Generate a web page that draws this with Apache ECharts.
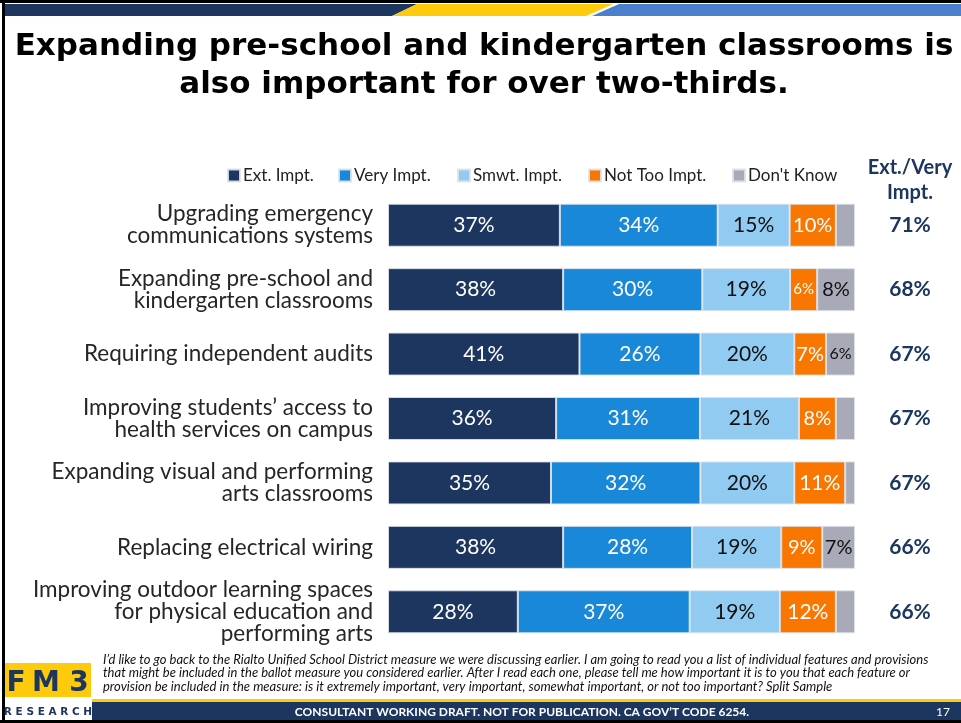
<!DOCTYPE html>
<html><head><meta charset="utf-8">
<script src="https://cdn.jsdelivr.net/npm/echarts@6/dist/echarts.min.js"></script>
<style>html,body{margin:0;padding:0;background:#fff}#c{width:961px;height:723px}</style>
</head><body><div id="c"></div>
<script>
const categories = [
  "Upgrading emergency\ncommunications systems",
  "Expanding pre-school and\nkindergarten classrooms",
  "Requiring independent audits",
  "Improving students\u2019 access to\nhealth services on campus",
  "Expanding visual and performing\narts classrooms",
  "Replacing electrical wiring",
  "Improving outdoor learning spaces\nfor physical education and\nperforming arts"
];
const extImpt   = [36.8, 37.5, 41.0, 36.0, 34.9, 37.5, 27.8];
const veryImpt  = [33.8, 29.8, 25.9, 30.8, 32.0, 27.6, 36.8];
const smwtImpt  = [15.4, 18.8, 20.1, 21.2, 20.1, 19.1, 19.3];
const notTooImpt= [9.9, 5.8, 6.8, 7.9, 10.9, 8.8, 12.0];
const dontKnow  = [4.1, 8.1, 6.2, 4.1, 2.1, 7.0, 4.1];
const extVeryTotals = [71, 68, 67, 67, 67, 66, 66];
const seriesNames = ["Ext. Impt.", "Very Impt.", "Smwt. Impt.", "Not Too Impt.", "Don't Know"];

const colors = ['#1c3660', '#1a88d8', '#92cbf2', '#f97600', '#a8aab8'];
const labelColors = ['#ffffff', '#ffffff', '#111111', '#ffffff', '#111111'];
const FONT = 'Lato';

function mkData(arr) {
  return arr.map(v => {
    let fs = 21;
    if (v < 6) fs = 15;
    else if (v < 6.5) fs = 16;
    else if (v < 10.5) fs = 20;
    return { value: v, label: { fontSize: fs } };
  });
}
const allVals = [extImpt, veryImpt, smwtImpt, notTooImpt, dontKnow];
const series = allVals.map((arr, i) => ({
  name: seriesNames[i],
  type: 'bar',
  stack: 'total',
  barWidth: 43,
  data: mkData(arr),
  itemStyle: { color: colors[i], borderColor: 'rgba(220,226,235,0.9)', borderWidth: 1 },
  label: {
    show: true,
    position: 'inside',
    color: labelColors[i],
    fontFamily: FONT,
    formatter: p => (p.value >= 5 ? Math.round(p.value) + '%' : '')
  },
  emphasis: { disabled: true }
}));

const legendX = [222, 333, 452, 583, 727];
const legends = seriesNames.map((n, i) => ({
  data: [n], left: legendX[i], top: 162, itemWidth: 12, itemHeight: 12, itemGap: 4,
  icon: 'rect', textStyle: { fontSize: 17, color: '#222', fontFamily: FONT, padding: [0, 0, 0, -2] }, selectedMode: false
}));

const chart = echarts.init(document.getElementById('c'));
chart.setOption({
  animation: false,
  color: colors,
  legend: legends,
  grid: { left: 388, right: 106, top: 193, height: 451 },
  xAxis: { type: 'value', min: 0, max: 100, show: false },
  yAxis: [{
    type: 'category', data: categories, inverse: true,
    axisLine: { show: false }, axisTick: { show: false },
    axisLabel: { fontSize: 22.5, color: '#262626', fontFamily: FONT, margin: 15, lineHeight: 22, align: 'right' }
  }, {
    type: 'category', data: extVeryTotals.map(v => v + '%'), inverse: true, position: 'right',
    axisLine: { show: false }, axisTick: { show: false },
    axisLabel: { fontSize: 21, fontWeight: 'bold', color: '#1c3660', fontFamily: FONT, margin: 55, align: 'center' }
  }],
  series: series,
  graphic: [
    { type: 'rect', shape: { x: 0, y: 0, width: 961, height: 3 }, style: { fill: '#000' } },
    { type: 'rect', shape: { x: 2, y: 0, width: 3, height: 723 }, style: { fill: '#000' } },
    { type: 'polygon', shape: { points: [[5, 4], [417, 4], [392, 16], [5, 16]] }, style: { fill: '#1c3660' } },
    { type: 'polygon', shape: { points: [[417, 4], [613, 4], [586, 16], [392, 16]] }, style: { fill: '#fdcb0b' } },
    { type: 'polygon', shape: { points: [[619, 4], [961, 4], [961, 16], [592, 16]] }, style: { fill: '#4a7fcb' } },
    { type: 'text', x: 484, y: 28, style: {
      text: 'Expanding pre-school and kindergarten classrooms is\nalso important for over two-thirds.',
      font: 'bold 31px "DejaVu Sans"', fill: '#000', align: 'center', verticalAlign: 'top', lineHeight: 38 } },
    { type: 'text', x: 910, y: 155, style: {
      text: 'Ext./Very\nImpt.', font: 'bold 20px Lato', fill: '#1c3660', align: 'center', verticalAlign: 'top', lineHeight: 25 } },
    { type: 'text', x: 103, y: 653, style: {
      text: 'I\u2019d like to go back to the Rialto Unified School District measure we were discussing earlier. I am going to read you a list of individual features and provisions\nthat might be included in the ballot measure you considered earlier. After I read each one, please tell me how important it is to you that each feature or\nprovision be included in the measure: is it extremely important, very important, somewhat important, or not too important? Split Sample',
      font: 'italic 13px Lato', fill: '#111', lineHeight: 13.5, verticalAlign: 'top' } },
    { type: 'rect', shape: { x: 5, y: 663, width: 86, height: 34 }, style: { fill: '#fdcb0b' } },
    { type: 'text', x: 16, y: 684, style: { text: 'F', font: 'bold 28px "DejaVu Sans"', fill: '#1c3660', align: 'center', verticalAlign: 'middle' } },
    { type: 'text', x: 46, y: 684, style: { text: 'M', font: 'bold 28px "DejaVu Sans"', fill: '#1c3660', align: 'center', verticalAlign: 'middle' } },
    { type: 'text', x: 79, y: 684, style: { text: '3', font: 'bold 28px "DejaVu Sans"', fill: '#1c3660', align: 'center', verticalAlign: 'middle' } },
    { type: 'text', x: 48, y: 712, style: { text: 'R E S E A R C H', font: 'bold 10.5px "DejaVu Sans"', fill: '#1c3660', align: 'center', verticalAlign: 'middle' } },
    { type: 'rect', shape: { x: 92, y: 699, width: 869, height: 3 }, style: { fill: '#fdcb0b' } },
    { type: 'rect', shape: { x: 92, y: 702, width: 869, height: 18 }, style: { fill: '#1c3660' } },
    { type: 'rect', shape: { x: 0, y: 720, width: 961, height: 3 }, style: { fill: '#000' } },
    { type: 'text', x: 522, y: 712, style: { text: 'CONSULTANT WORKING DRAFT. NOT FOR PUBLICATION. CA GOV\u2019T CODE 6254.',
      font: 'bold 12px Lato', fill: '#fff', align: 'center', verticalAlign: 'middle' } },
    { type: 'text', x: 943, y: 712, style: { text: '17', font: '12px Lato', fill: '#fff', align: 'center', verticalAlign: 'middle' } }
  ]
});
</script></body></html>
